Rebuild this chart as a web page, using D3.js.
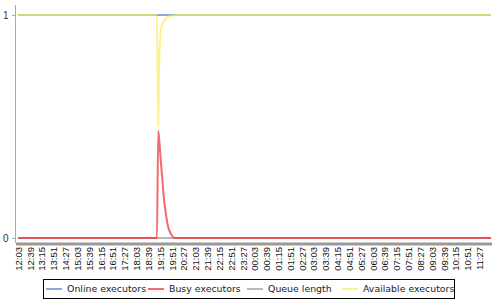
<!DOCTYPE html>
<meta charset="utf-8">
<style>
body { margin: 0; background: #fff; }
svg { font-family: "DejaVu Sans", sans-serif; }
.axis path, .axis line { fill: none; stroke: #aaa; shape-rendering: crispEdges; }
.axis text { fill: #333; }
.series { fill: none; stroke-width: 2; }
</style>
<body>
<svg width="500" height="300"></svg>
<script src="https://d3js.org/d3.v7.min.js"></script>
<script>

// Tick labels (one every 36 minutes, 24 hours)
var timeLabels = ["12:03","12:39","13:15","13:51","14:27","15:03","15:39","16:15","16:51","17:27",
  "18:03","18:39","19:15","19:51","20:27","21:03","21:39","22:15","22:51","23:27",
  "00:03","00:39","01:15","01:51","02:27","03:03","03:39","04:15","04:51","05:27",
  "06:03","06:39","07:15","07:51","08:27","09:03","09:39","10:15","10:51","11:27"];

// [minutes after 12:03, value]
var onlineExecutors = [[0, 1], [1440, 1]];
var busyExecutors = [[0, 0], [423, 0], [427, 0.48], [431, 0.42], [435, 0.34], [439, 0.27],
  [444, 0.18], [450, 0.11], [457, 0.05], [465, 0.02], [478, 0], [1440, 0]];
var queueLength = [[0, 0], [1440, 0]];
var availableExecutors = [[0, 1], [423, 1], [427, 0.5], [429, 0.72], [432, 0.87], [437, 0.95],
  [445, 0.975], [453, 0.987], [465, 0.996], [484, 1], [1440, 1]];

var seriesNames = ["Online executors", "Busy executors", "Queue length", "Available executors"];
var seriesColors = ["#729fcf", "#ef2929", "#ababab", "#fce94f"];
var seriesOpacity = [0.85, 0.7, 0.85, 0.65];

var svg = d3.select("svg");

var x = d3.scaleLinear().domain([0, 1440]).range([18, 491]);
var y = d3.scaleLinear().domain([-0.018, 1.049]).range([242, 4]);

// Y axis
svg.append("g")
    .attr("class", "axis")
    .attr("transform", "translate(14.5,0)")
    .call(d3.axisLeft(y).tickValues([0, 1]).tickFormat(d3.format("d")).tickSizeInner(3).tickSizeOuter(0))
    .call(function(g) {
      g.selectAll("text").style("font-size", "10px").attr("x", -6);
    });

// X axis band
svg.append("rect")
    .attr("x", 16).attr("y", 242.5)
    .attr("width", 476).attr("height", 3)
    .attr("fill", "#999");

var xAxis = svg.append("g")
    .attr("class", "axis")
    .attr("transform", "translate(0,245)")
    .call(d3.axisBottom(x)
      .tickValues(timeLabels.map(function(d, i) { return i * 36; }))
      .tickFormat(function(d) { return timeLabels[d / 36]; })
      .tickSize(0));
xAxis.select(".domain").remove();
xAxis.selectAll("text")
    .style("font-size", "9.5px")
    .style("fill", "#111")
    .attr("text-anchor", "end")
    .attr("transform", "rotate(-90)")
    .attr("x", -2)
    .attr("y", 0)
    .attr("dy", "0.35em");

// Lines
var line = d3.line()
    .x(function(d) { return x(d[0]); })
    .y(function(d) { return y(d[1]); })
    .curve(d3.curveMonotoneX);

var drawOrder = [
  {data: queueLength, i: 2},
  {data: onlineExecutors, i: 0},
  {data: busyExecutors, i: 1},
  {data: availableExecutors, i: 3}
];

svg.selectAll(".series")
  .data(drawOrder)
  .enter().append("path")
    .attr("class", "series")
    .attr("stroke", function(d) { return seriesColors[d.i]; })
    .attr("stroke-opacity", function(d) { return seriesOpacity[d.i]; })
    .attr("d", function(d) { return line(d.data); });

// Legend
var legend = svg.append("g");
legend.append("rect")
    .attr("x", 43.5).attr("y", 279.5)
    .attr("width", 411).attr("height", 19)
    .attr("fill", "#fff")
    .attr("stroke", "#000");

var legendX = [46, 148, 247, 342];
var item = legend.selectAll(".item")
  .data(seriesNames)
  .enter().append("g")
    .attr("class", "item")
    .attr("transform", function(d, i) { return "translate(" + legendX[i] + ",289)"; });

item.append("line")
    .attr("x1", 0).attr("x2", 16)
    .attr("stroke", function(d, i) { return seriesColors[i]; })
    .attr("stroke-opacity", function(d, i) { return seriesOpacity[i]; })
    .attr("stroke-width", 2);

item.append("text")
    .attr("x", 21)
    .attr("dy", "0.35em")
    .style("font-size", "9.4px")
    .style("fill", "#222")
    .text(function(d) { return d; });

</script>
